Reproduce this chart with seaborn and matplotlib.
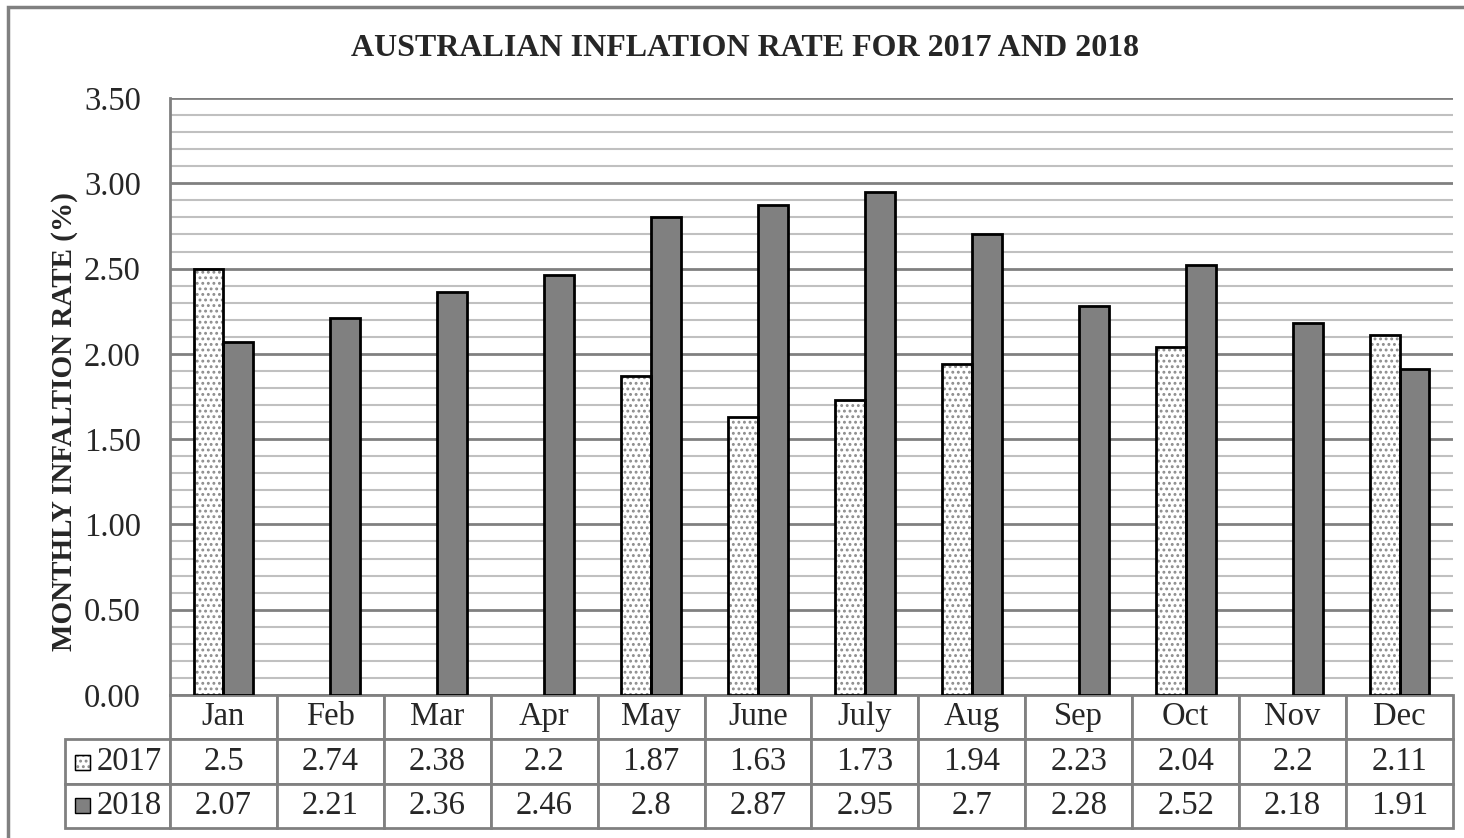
import numpy as np
import pandas as pd
import matplotlib.pyplot as plt
import seaborn as sns
from matplotlib.patches import Rectangle

# Data
months = ["Jan", "Feb", "Mar", "Apr", "May", "June", "July", "Aug", "Sep", "Oct", "Nov", "Dec"]
years = ["2017", "2018"]
rate_2017 = [2.5, 2.74, 2.38, 2.2, 1.87, 1.63, 1.73, 1.94, 2.23, 2.04, 2.2, 2.11]
rate_2018 = [2.07, 2.21, 2.36, 2.46, 2.8, 2.87, 2.95, 2.7, 2.28, 2.52, 2.18, 1.91]
# the original only draws some of the 2017 bars
months_with_2017_bar = ["Jan", "May", "June", "July", "Aug", "Oct", "Dec"]

bar_2017 = [v if m in months_with_2017_bar else np.nan for m, v in zip(months, rate_2017)]
df = pd.DataFrame({
    "Month": months * 2,
    "Year": ["2017"] * 12 + ["2018"] * 12,
    "Rate": bar_2017 + rate_2018,
})

sns.set_theme(style="white")
plt.rcParams["font.family"] = ["Liberation Serif", "DejaVu Serif"]
plt.rcParams["hatch.linewidth"] = 1.3

W, H = 1464, 838
fig = plt.figure(figsize=(W / 100, H / 100), dpi=100)
ax = fig.add_axes([170 / W, 143 / H, 1283 / W, 597 / H])

sns.barplot(data=df, x="Month", y="Rate", hue="Year", order=months, hue_order=years,
            palette={"2017": "white", "2018": "#808080"}, width=0.56,
            edgecolor="black", linewidth=2, saturation=1, legend=False, ax=ax)

# dotted fill for 2017: gray dots, black outline on top
for bar in ax.containers[0]:
    if np.isnan(bar.get_height()):
        continue
    bar.set_hatch("...")
    bar.set_edgecolor("#8c8c8c")
    bar.set_linewidth(0)
    ax.add_patch(Rectangle(bar.get_xy(), bar.get_width(), bar.get_height(),
                           facecolor="none", edgecolor="black", linewidth=2, zorder=3))

ax.set_ylim(0, 3.5)
ax.set_yticks(np.arange(0, 3.51, 0.5))
ax.set_yticks(np.arange(0, 3.51, 0.1), minor=True)
ax.set_yticklabels([f"{t:.2f}" for t in np.arange(0, 3.51, 0.5)])
ax.grid(which="major", axis="y", color="#808080", linewidth=2)
ax.grid(which="minor", axis="y", color="#c0c0c0", linewidth=1.5)
ax.set_axisbelow(True)
ax.tick_params(axis="y", which="both", length=0, pad=21, labelsize=23.5)
ax.set_xticks([])
ax.set_xlabel("")
ax.set_ylabel("")
for side in ["top", "right", "bottom"]:
    ax.spines[side].set_visible(False)
ax.spines["left"].set_color("#808080")
ax.spines["left"].set_linewidth(2)

# data table under the plot
cell_text = [[""] + months,
             ["2017"] + [f"{v:g}" for v in rate_2017],
             ["2018"] + [f"{v:g}" for v in rate_2018]]
lab_w = 105 / 1283
tbl = ax.table(cellText=cell_text, cellLoc="center",
               colWidths=[lab_w] + [1 / 12] * 12,
               bbox=[-lab_w, -133 / 597, 1 + lab_w, 133 / 597])
tbl.auto_set_font_size(False)
tbl.set_fontsize(23.5)
for (r, c), cell in tbl.get_celld().items():
    cell.set_edgecolor("#808080")
    cell.set_linewidth(2)
tbl[0, 0].visible_edges = "open"
for r in (1, 2):
    tbl[r, 0]._loc = "right"
    tbl[r, 0].PAD = 0.08
    tbl[r, 0].get_text().set_ha("right")

# small legend keys in the row labels
fig.add_artist(Rectangle((75 / W, (H - 770) / H), 15 / W, 15 / H, transform=fig.transFigure,
                         facecolor="white", edgecolor="#8c8c8c", hatch="...", linewidth=1))
fig.add_artist(Rectangle((75 / W, (H - 770) / H), 15 / W, 15 / H, transform=fig.transFigure,
                         facecolor="none", edgecolor="black", linewidth=1))
fig.add_artist(Rectangle((75 / W, (H - 813) / H), 15 / W, 15 / H, transform=fig.transFigure,
                         facecolor="#808080", edgecolor="black", linewidth=1))

fig.text(745 / W, 1 - 48 / H, "AUSTRALIAN INFLATION RATE FOR 2017 AND 2018",
         ha="center", va="center", fontsize=23, fontweight="bold")
fig.text(65 / W, 1 - 422 / H, "MONTHLY INFALTION RATE (%)", rotation=90,
         ha="center", va="center", fontsize=21, fontweight="bold")

# outer chart border
fig.add_artist(Rectangle((8 / W, -0.1), 1.2, 1.1 - 7 / H, transform=fig.transFigure,
                         facecolor="none", edgecolor="#808080", linewidth=2.5))

fig.savefig("out.png", dpi=100)
